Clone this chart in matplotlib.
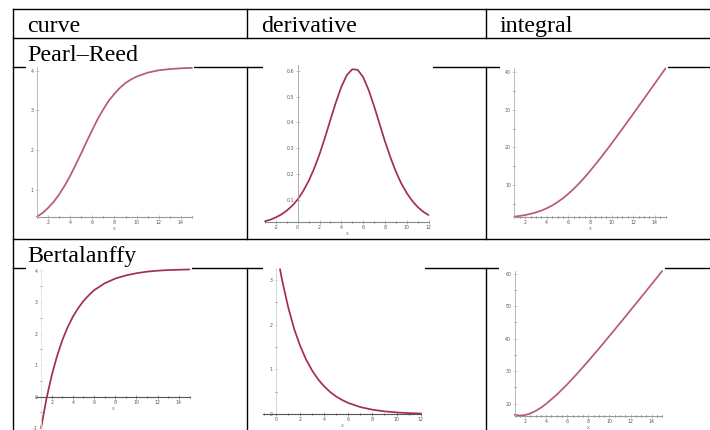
import matplotlib
matplotlib.use("Agg")
import matplotlib.pyplot as plt
from matplotlib.lines import Line2D
from matplotlib.patches import Rectangle
from matplotlib.ticker import MultipleLocator, FormatStrFormatter

plt.rcParams["axes.unicode_minus"] = False

W, H = 710, 430

headers = ["curve", "derivative", "integral"]
models = ["Pearl–Reed", "Bertalanffy"]

# Pearl-Reed (logistic) growth
pr_x = [1, 1.5, 2, 2.5, 3, 3.5, 4, 4.5, 5, 5.5, 6, 6.5, 7, 7.5, 8, 8.5, 9, 9.5,
        10, 11, 12, 13, 14, 15]
pr_curve = [0.32, 0.41, 0.54, 0.69, 0.88, 1.10, 1.35, 1.63, 1.92, 2.22, 2.51, 2.79,
            3.03, 3.25, 3.42, 3.57, 3.69, 3.78, 3.85, 3.95, 4.01, 4.04, 4.06, 4.07]
pr_dx = [-3, -2.5, -2, -1.5, -1, -0.5, 0, 0.5, 1, 1.5, 2, 2.5, 3, 3.5, 4, 4.5, 5,
         5.5, 6, 6.5, 7, 7.5, 8, 8.5, 9, 9.5, 10, 10.5, 11, 11.5, 12]
pr_deriv = [0.019, 0.025, 0.034, 0.045, 0.060, 0.079, 0.103, 0.135, 0.174, 0.221,
            0.277, 0.341, 0.410, 0.477, 0.537, 0.582, 0.605, 0.603, 0.575, 0.526,
            0.464, 0.396, 0.328, 0.266, 0.211, 0.165, 0.128, 0.098, 0.074, 0.056,
            0.043]
pr_ix = [1, 1.5, 2, 2.5, 3, 3.5, 4, 4.5, 5, 5.5, 6, 6.5, 7, 7.5, 8, 9, 10, 11, 12,
         13, 14, 15]
pr_int = [1.61, 1.79, 2.02, 2.33, 2.72, 3.21, 3.82, 4.56, 5.45, 6.48, 7.67, 8.99,
          10.45, 12.02, 13.69, 17.25, 21.03, 24.94, 28.92, 32.94, 36.99, 41.05]

# Bertalanffy growth
bt_x = [1, 1.5, 2, 2.5, 3, 3.5, 4, 4.5, 5, 5.5, 6, 7, 8, 9, 10, 11, 12, 13, 14, 15]
bt_curve = [-1.00, -0.08, 0.67, 1.28, 1.79, 2.20, 2.54, 2.81, 3.04, 3.22, 3.38,
            3.60, 3.75, 3.85, 3.92, 3.97, 4.00, 4.02, 4.03, 4.04]
bt_dx = [0.33, 0.5, 1, 1.5, 2, 2.5, 3, 3.5, 4, 4.5, 5, 5.5, 6, 7, 8, 9, 10, 11, 12]
bt_deriv = [3.24, 3.00, 2.40, 1.91, 1.53, 1.22, 0.975, 0.778, 0.622, 0.496, 0.396,
            0.317, 0.253, 0.161, 0.103, 0.066, 0.042, 0.027, 0.017]
bt_ix = [1, 1.5, 2, 2.5, 3, 3.5, 4, 5, 6, 7, 8, 9, 10, 11, 12, 13, 14, 15]
bt_int = [16.56, 16.30, 16.45, 16.94, 17.71, 18.71, 19.90, 22.70, 25.92, 29.42,
          33.10, 36.91, 40.80, 44.74, 48.73, 52.73, 56.76, 60.80]

fig = plt.figure(figsize=(7.1, 4.3), dpi=100)


def box(x0, y0, x1, y1):
    return [x0 / W, 1 - y1 / H, (x1 - x0) / W, (y1 - y0) / H]


def hline(y, x0=13, x1=710):
    fig.add_artist(Line2D([x0 / W, x1 / W], [1 - y / H] * 2, color="black",
                          lw=1.0, zorder=0.5))


def vline(x, y0, y1):
    fig.add_artist(Line2D([x / W] * 2, [1 - y0 / H, 1 - y1 / H], color="black",
                          lw=1.0, zorder=0.5))


def blank(x0, y0, x1, y1):
    fig.add_artist(Rectangle((x0 / W, 1 - y1 / H), (x1 - x0) / W, (y1 - y0) / H,
                             transform=fig.transFigure, facecolor="white",
                             edgecolor="none", zorder=1))


# table grid
for y in (9, 38, 67, 239, 268):
    hline(y)
vline(13, 9, 430)
for x in (247, 486):
    vline(x, 9, 38)
    vline(x, 67, 239)
    vline(x, 268, 430)

serif = dict(family="Liberation Serif", fontsize=17.3, va="baseline", ha="left")
for x, s in zip((27, 261, 500), headers):
    fig.text(x / W, 1 - 32 / H, s, **serif)
fig.text(27 / W, 1 - 61 / H, models[0], **serif)
fig.text(27 / W, 1 - 262 / H, models[1], **serif)


def panel(rect, xs, ys, xlim, ylim, xstep, ystep, color, xminor=1, yminor=None,
          ycross=None, xcross=None, xcol="#9a9a9a", ycol="#b0b0b0", yfmt="%d"):
    ax = fig.add_axes(box(*rect))
    ax.set_zorder(2)
    ax.patch.set_alpha(0)
    ax.plot(xs, ys, color=color, lw=1.25, solid_capstyle="round", clip_on=False)
    ax.set_xlim(*xlim)
    ax.set_ylim(*ylim)
    ax.spines[["top", "right"]].set_visible(False)
    if ycross is not None:
        ax.spines["left"].set_position(("data", ycross))
    if xcross is not None:
        ax.spines["bottom"].set_position(("data", xcross))
    ax.spines["bottom"].set_color(xcol)
    ax.spines["left"].set_color(ycol)
    ax.spines["bottom"].set_linewidth(0.8)
    ax.spines["left"].set_linewidth(0.6)
    ax.xaxis.set_major_locator(MultipleLocator(xstep))
    ax.xaxis.set_minor_locator(MultipleLocator(xminor))
    ax.yaxis.set_major_locator(MultipleLocator(ystep))
    if yminor:
        ax.yaxis.set_minor_locator(MultipleLocator(yminor))
    ax.yaxis.set_major_formatter(FormatStrFormatter(yfmt))
    ax.tick_params(which="both", direction="inout", width=0.4, labelsize=3.4,
                   labelcolor="#5a5a5a", pad=1.2)
    ax.tick_params(which="major", length=2.2)
    ax.tick_params(which="minor", length=1.2)
    ax.tick_params(axis="x", colors=xcol, labelcolor="#5a5a5a")
    ax.tick_params(axis="y", colors=ycol, labelcolor="#5a5a5a")
    ax.set_xlabel("x", fontsize=3.4, labelpad=0.6, color="#777777")
    return ax


light = "#b85a72"
dark = "#a3304a"

# Pearl-Reed row
blank(26, 64, 194, 236)
blank(263, 64, 433, 236)
blank(500, 64, 668, 236)
panel((37, 66.7, 192, 217), pr_x, pr_curve, (1, 15), (0.31, 4.1), 2, 1, light)
panel((265, 65.4, 428.5, 222), pr_dx, pr_deriv, (-3, 12), (0.016, 0.62), 2, 0.1,
      dark, ycross=0, yfmt="%.1f", xcol="#8a8a8a", ycol="#a0a0a0")
panel((514.3, 68.2, 665.5, 216.6), pr_ix, pr_int, (1, 15), (1.61, 41.1), 2, 10,
      light, xminor=0.5, yminor=5)

# Bertalanffy row
blank(26, 265, 192, 430)
blank(263, 265, 425, 430)
blank(499, 265, 665, 430)
panel((36.3, 268.8, 189.5, 428.8), bt_x, bt_curve, (0.55, 15), (-1.02, 4.06), 2, 1,
      dark, yminor=0.5, ycross=1, xcross=0, xcol="#555555", ycol="#e2e2e2")
panel((263, 268.2, 420.6, 414.3), bt_dx, bt_deriv, (-1.08, 12), (0, 3.26), 2, 1,
      dark, yminor=0.5, ycross=0, xcol="#555555", ycol="#cfcfcf")
panel((514.5, 270.7, 662.2, 415.7), bt_ix, bt_int, (1, 15), (16.25, 60.9), 2, 10,
      light, xminor=0.5, yminor=5)

fig.savefig("out.png", dpi=100)
